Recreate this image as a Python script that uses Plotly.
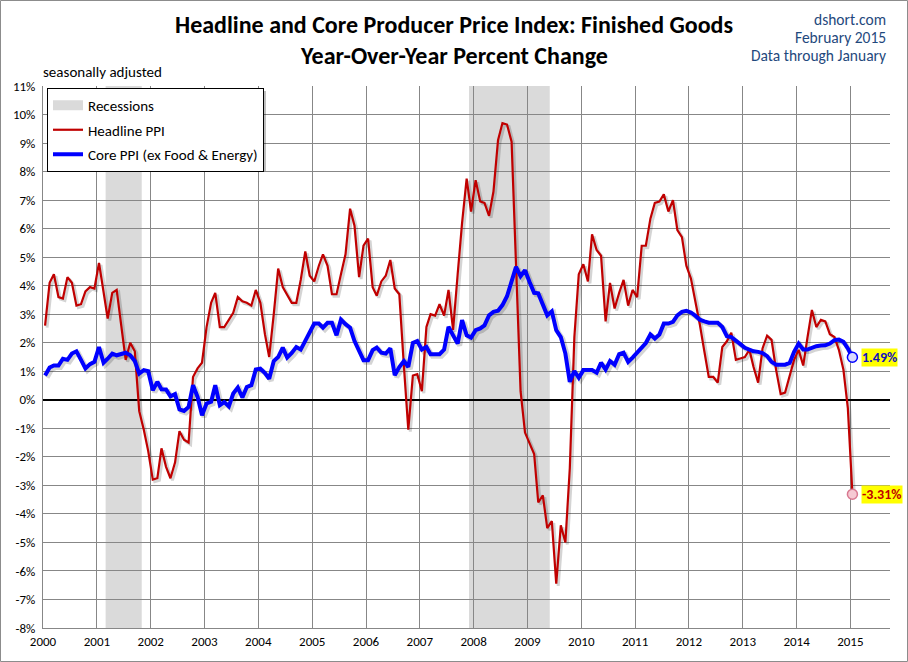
import pandas as pd
import plotly.graph_objects as go

# ---------------- data ----------------
start_month = "2000-01-01"
headline = [
    2.6, 4.1, 4.4, 3.6, 3.55, 4.3, 4.1, 3.3, 3.35, 3.8, 3.95, 3.9,        # 2000
    4.8, 3.8, 2.85, 3.75, 3.85, 2.6, 1.4, 2.0, 1.7, -0.4, -1.05, -1.8,     # 2001
    -2.8, -2.75, -1.7, -2.35, -2.75, -2.2, -1.1, -1.4, -1.5, 0.8, 1.1, 1.3,  # 2002
    2.55, 3.4, 3.75, 2.55, 2.55, 2.8, 3.05, 3.6, 3.45, 3.4, 3.3, 3.85,    # 2003
    3.4, 2.3, 1.5, 3.0, 4.6, 3.95, 3.7, 3.4, 3.4, 4.2, 5.2, 4.35,         # 2004
    4.15, 4.7, 5.1, 4.7, 3.7, 3.7, 4.4, 5.1, 6.7, 6.1, 4.3, 5.4,          # 2005
    5.65, 3.95, 3.65, 4.15, 4.35, 4.9, 3.9, 3.7, 1.2, -1.05, 0.85, 0.9,   # 2006
    0.3, 2.55, 3.0, 2.95, 3.35, 2.95, 3.85, 2.45, 4.4, 6.2, 7.75, 6.6,    # 2007
    7.7, 6.95, 6.9, 6.45, 7.3, 9.1, 9.7, 9.65, 9.05, 5.0, 0.3, -1.15,     # 2008
    -1.5, -1.9, -3.6, -3.35, -4.5, -4.25, -6.45, -4.4, -5.0, -2.4, 2.2, 4.4,  # 2009
    4.75, 4.15, 5.8, 5.25, 5.05, 2.75, 4.1, 3.2, 3.75, 4.2, 3.3, 3.85,    # 2010
    3.6, 5.4, 5.4, 6.35, 6.9, 6.95, 7.2, 6.6, 7.0, 5.95, 5.7, 4.7,        # 2011
    4.25, 3.45, 2.65, 1.7, 0.8, 0.8, 0.6, 1.85, 2.05, 2.35, 1.4, 1.45,    # 2012
    1.5, 1.75, 1.15, 0.6, 1.8, 2.25, 2.1, 1.05, 0.2, 0.25, 0.8, 1.4,      # 2013
    1.75, 1.2, 2.15, 3.15, 2.55, 2.8, 2.75, 2.3, 2.2, 1.75, 1.05, -0.3,   # 2014
    -3.31,                                                                # 2015
]
core = [
    0.85, 1.13, 1.2, 1.2, 1.44, 1.4, 1.62, 1.7, 1.4, 1.1, 1.25, 1.33,         # 2000
    1.85, 1.3, 1.44, 1.62, 1.56, 1.62, 1.65, 1.56, 1.36, 0.92, 1.04, 1.0,     # 2001
    0.33, 0.63, 0.37, 0.36, 0.12, 0.2, -0.34, -0.39, -0.25, 0.51, 0.1, -0.54,  # 2002
    -0.13, -0.07, 0.51, -0.19, -0.08, -0.23, 0.22, 0.43, 0.08, 0.45, 0.51, 1.06,  # 2003
    1.09, 0.94, 0.74, 1.36, 1.5, 1.83, 1.48, 1.64, 1.85, 1.76, 2.09, 2.38,    # 2004
    2.67, 2.67, 2.53, 2.7, 2.7, 2.26, 2.81, 2.65, 2.53, 2.06, 1.68, 1.39,     # 2005
    1.39, 1.74, 1.83, 1.65, 1.62, 1.8, 0.86, 1.15, 1.36, 1.15, 1.99, 2.06,    # 2006
    1.76, 1.85, 1.6, 1.6, 1.6, 1.76, 2.56, 2.26, 1.97, 2.79, 2.26, 2.18,      # 2007
    2.44, 2.5, 2.61, 2.96, 3.08, 3.12, 3.32, 3.63, 4.13, 4.66, 4.33, 4.54,    # 2008
    4.13, 3.75, 3.73, 3.35, 2.96, 3.1, 2.44, 2.2, 1.62, 0.63, 1.01, 0.77,     # 2009
    1.04, 1.04, 1.04, 0.95, 1.3, 1.06, 1.36, 1.23, 1.6, 1.65, 1.33, 1.48,     # 2010
    1.64, 1.82, 1.99, 2.29, 2.15, 2.29, 2.67, 2.67, 2.73, 2.96, 3.08, 3.12,   # 2011
    3.06, 2.94, 2.81, 2.75, 2.7, 2.7, 2.7, 2.55, 2.23, 2.2, 2.09, 1.95,       # 2012
    1.82, 1.76, 1.7, 1.68, 1.64, 1.53, 1.33, 1.23, 1.23, 1.23, 1.29, 1.68,    # 2013
    1.97, 1.76, 1.76, 1.83, 1.88, 1.9, 1.91, 1.97, 2.09, 2.11, 2.03, 1.8,     # 2014
    1.49,                                                                     # 2015
]
recession_start = ["2001-03-01", "2007-12-01"]
recession_end = ["2001-11-01", "2009-06-01"]
y_ticks = list(range(-8, 12))
y_tick_labels = [f"{v}%" for v in y_ticks]
x_tick_labels = [str(y) for y in range(2000, 2016)]

dates = pd.date_range(start_month, periods=len(headline), freq="MS") + pd.DateOffset(days=14)

# ---------------- layout helpers ----------------
W, H = 908, 662
ML, MR, MT, MB = 43, 18, 86, 34
PW, PH = W - ML - MR, H - MT - MB
FONT = "Carlito, Lato, Calibri, sans-serif"
RED = "#C00000"
BLUE = "#0000FF"
GRID = "#878787"
REC = "#DADADA"


def px_x(px):
    return (px - ML) / PW


def px_y(py):
    return 1 - (py - MT) / PH


x_range = [pd.Timestamp("2000-01-01"), pd.Timestamp("2015-09-27")]
y_range = [-8, 11]
# shadow offset (about 2 px right / 2 px down)
days_per_px = (x_range[1] - x_range[0]) / PW
y_per_px = (y_range[1] - y_range[0]) / PH
sx_range = [x_range[0] - 2 * days_per_px, x_range[1] - 2 * days_per_px]
sy_range = [y_range[0] + 2 * y_per_px, y_range[1] + 2 * y_per_px]

fig = go.Figure()

# base-axis carrier (invisible) so the main subplot with grid is drawn
fig.add_trace(go.Scatter(x=dates, y=core, mode="lines", line=dict(width=0, color="rgba(0,0,0,0)"),
                         showlegend=False, hoverinfo="skip"))
# legend entry for recessions
fig.add_trace(go.Scatter(x=[None], y=[None], mode="lines", name="Recessions",
                         line=dict(color=REC, width=10), legendgroup="a"))

# shadows
fig.add_trace(go.Scatter(x=dates, y=headline, mode="lines", xaxis="x2", yaxis="y2",
                         line=dict(color="rgba(0,0,0,0.17)", width=3), showlegend=False,
                         hoverinfo="skip"))
fig.add_trace(go.Scatter(x=dates, y=core, mode="lines", xaxis="x2", yaxis="y2",
                         line=dict(color="rgba(0,0,0,0.17)", width=5), showlegend=False,
                         hoverinfo="skip"))

# main lines
fig.add_trace(go.Scatter(x=dates, y=headline, mode="lines", name="Headline PPI",
                         xaxis="x3", yaxis="y3", legendgroup="b",
                         line=dict(color=RED, width=2.2)))
fig.add_trace(go.Scatter(x=dates, y=core, mode="lines", name="Core PPI (ex Food & Energy)",
                         xaxis="x3", yaxis="y3", legendgroup="c",
                         line=dict(color=BLUE, width=4)))
# end markers
fig.add_trace(go.Scatter(x=[dates[-1]], y=[core[-1]], mode="markers", xaxis="x3", yaxis="y3",
                         marker=dict(size=10, color="#D8D8FF", line=dict(color=BLUE, width=1.5)),
                         showlegend=False))
fig.add_trace(go.Scatter(x=[dates[-1]], y=[headline[-1]], mode="markers", xaxis="x3", yaxis="y3",
                         marker=dict(size=10, color="#F6C9D3", line=dict(color="#D87890", width=1.5)),
                         showlegend=False))

shapes = []
for s, e in zip(recession_start, recession_end):
    shapes.append(dict(type="rect", xref="x", yref="paper", x0=s, x1=e, y0=0, y1=1,
                       fillcolor=REC, line=dict(width=0), layer="below"))
# legend shadow
shapes.append(dict(type="rect", xref="paper", yref="paper",
                   x0=px_x(51), x1=px_x(266), y0=px_y(171), y1=px_y(91),
                   fillcolor="rgba(0,0,0,0.25)", line=dict(width=0), layer="above"))
# outer frame
shapes.append(dict(type="rect", xref="paper", yref="paper",
                   x0=px_x(0.5), x1=px_x(W - 0.5), y0=px_y(H - 0.5), y1=px_y(0.5),
                   line=dict(color="#8C8C8C", width=1), fillcolor="rgba(0,0,0,0)"))

annotations = [
    dict(text="<b>Headline and Core Producer Price Index: Finished Goods</b>",
         x=px_x(454), y=px_y(24), xanchor="center", yanchor="middle",
         font=dict(size=24, color="#000000")),
    dict(text="<b>Year-Over-Year Percent Change</b>",
         x=px_x(454), y=px_y(55), xanchor="center", yanchor="middle",
         font=dict(size=24, color="#000000")),
    dict(text="dshort.com", x=px_x(888), y=px_y(19), xanchor="right", yanchor="middle",
         font=dict(size=15.5, color="#1F497D")),
    dict(text="February 2015", x=px_x(888), y=px_y(37), xanchor="right", yanchor="middle",
         font=dict(size=15.5, color="#1F497D")),
    dict(text="Data through January", x=px_x(888), y=px_y(55), xanchor="right", yanchor="middle",
         font=dict(size=15.5, color="#1F497D")),
    dict(text="seasonally adjusted", x=px_x(41), y=px_y(72), xanchor="left", yanchor="middle",
         font=dict(size=15, color="#000000")),
    dict(text=f"<b>{core[-1]:.2f}%</b>", x=dates[-1], y=core[-1], xref="x3", yref="y3",
         xanchor="left", yanchor="middle", xshift=9, bgcolor="#FFFF00", borderpad=0,
         font=dict(size=14, color="#1010C0")),
    dict(text=f"<b>{headline[-1]:.2f}%</b>", x=dates[-1], y=headline[-1], xref="x3", yref="y3",
         xanchor="left", yanchor="middle", xshift=9, bgcolor="#FFFF00", borderpad=0,
         font=dict(size=14, color=RED)),
]
for a in annotations:
    a.setdefault("xref", "paper")
    a.setdefault("yref", "paper")
    a["showarrow"] = False

tick_dates = pd.to_datetime([f"{y}-01-01" for y in x_tick_labels])

fig.update_layout(
    width=W, height=H,
    margin=dict(l=ML, r=MR, t=MT, b=MB, autoexpand=False),
    paper_bgcolor="white", plot_bgcolor="white",
    font=dict(family=FONT, size=13, color="#000000"),
    showlegend=True,
    legend=dict(x=px_x(47), y=px_y(88), xanchor="left", yanchor="top",
                bgcolor="white", bordercolor="#000000", borderwidth=1,
                font=dict(size=15, family=FONT), traceorder="grouped",
                tracegroupgap=2, itemwidth=30),
    xaxis=dict(range=x_range, tickvals=tick_dates, ticktext=x_tick_labels,
               showgrid=True, gridcolor=GRID, gridwidth=1, showline=True,
               linecolor=GRID, ticks="", ticklabelstandoff=1, zeroline=False,
               tickfont=dict(size=13)),
    yaxis=dict(range=y_range, tickvals=y_ticks, ticktext=y_tick_labels,
               showgrid=True, gridcolor=GRID, gridwidth=1, showline=True,
               linecolor=GRID, ticks="", ticklabelstandoff=4,
               zeroline=True, zerolinecolor="#000000", zerolinewidth=2,
               tickfont=dict(size=13)),
    xaxis2=dict(range=sx_range, overlaying="x", visible=False),
    yaxis2=dict(range=sy_range, overlaying="y", visible=False),
    xaxis3=dict(range=x_range, overlaying="x", visible=False),
    yaxis3=dict(range=y_range, overlaying="y", visible=False),
    shapes=shapes,
    annotations=annotations,
)

fig.write_html("out.html", config={"displayModeBar": False},
               post_script="document.body.style.margin='0';")
